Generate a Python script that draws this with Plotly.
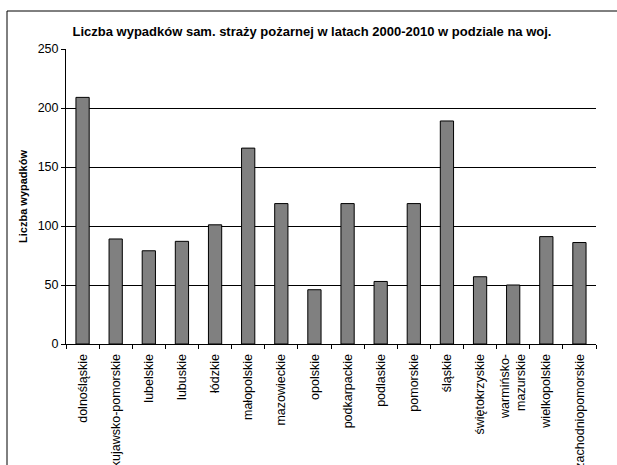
import plotly.graph_objects as go

categories = ["dolnośląskie", "kujawsko-pomorskie", "lubelskie", "lubuskie", "łódzkie",
              "małopolskie", "mazowieckie", "opolskie", "podkarpackie", "podlaskie",
              "pomorskie", "śląskie", "świętokrzyskie", "warmińsko-<br>mazurskie",
              "wielkopolskie", "zachodniopomorskie"]
values = [209, 89, 79, 87, 101, 166, 119, 46, 119, 53, 119, 189, 57, 50, 91, 86]
y_ticks = [0, 50, 100, 150, 200, 250]

W, H = 617, 465
L, R, T, B = 66, 21, 49, 121
pw, ph = W - L - R, H - T - B

fig = go.Figure(go.Bar(
    x=categories, y=values,
    marker=dict(color="#808080", line=dict(color="black", width=1)),
))

def px_x(p):
    return (p - L) / pw

def px_y(p):
    return (H - B - p) / ph

fig.update_layout(
    width=W, height=H,
    margin=dict(l=L, r=R, t=T, b=B, autoexpand=False),
    paper_bgcolor="white", plot_bgcolor="white",
    bargap=0.6, showlegend=False,
    font=dict(family="Liberation Sans, Arial", color="black"),
    title=dict(text="<b>Liczba wypadków sam. straży pożarnej w latach 2000-2010 w podziale na woj.</b>",
               x=312 / W, xanchor="center", y=1 - 31 / H, yanchor="middle",
               font=dict(size=13, family="Liberation Sans, Arial", color="black")),
    xaxis=dict(showline=True, linecolor="black", linewidth=1, ticks="outside", ticklen=4,
               tickcolor="black", tickson="boundaries", tickangle=-90, automargin=False,
               tickfont=dict(size=12.5), showgrid=False, ticklabelstandoff=4),
    yaxis=dict(range=[0, 250], tickvals=y_ticks, showline=True, linecolor="black", linewidth=1,
               ticks="outside", ticklen=4, tickcolor="black", showgrid=True, gridcolor="black",
               gridwidth=1, zeroline=False, automargin=False, tickfont=dict(size=12.5),
               title=dict(text="<b>Liczba wypadków</b>", font=dict(size=11), standoff=7)),
    shapes=[dict(type="rect", xref="paper", yref="paper",
                 x0=px_x(7), x1=px_x(640), y0=px_y(11), y1=px_y(500),
                 line=dict(color="black", width=1), fillcolor="rgba(0,0,0,0)", layer="below")],
)

fig.write_html("out.html")
